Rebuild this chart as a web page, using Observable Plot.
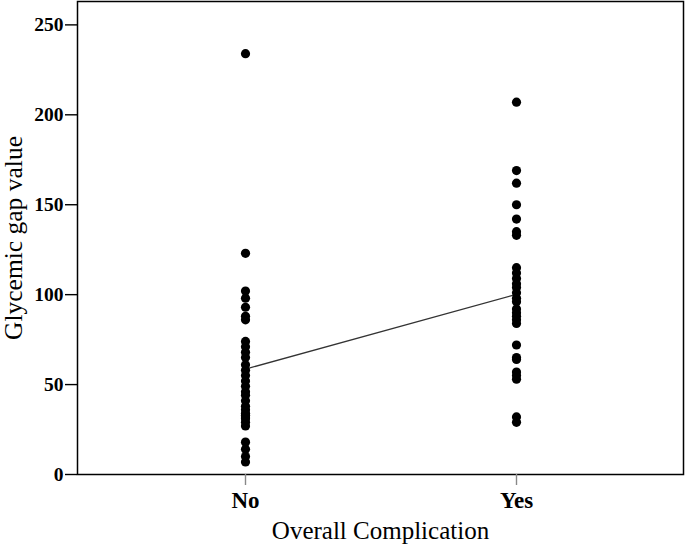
<!DOCTYPE html>
<html>
<head>
<meta charset="utf-8">
<script src="https://cdn.jsdelivr.net/npm/d3@7"></script>
<script src="https://cdn.jsdelivr.net/npm/@observablehq/plot@0.6"></script>
<style>
  html, body { margin: 0; padding: 0; background: white; }
</style>
</head>
<body>
<div id="chart"></div>
<script>
const groups = ["No", "Yes"];
const noValues = [234, 123, 102, 98, 93, 88, 86, 74, 71, 68, 65, 61, 58, 55, 52, 49, 46, 44, 41, 38, 36, 34, 33, 32, 31, 29, 27, 18, 14, 10, 7];
const yesValues = [207, 169, 162, 150, 142, 135, 133, 115, 112, 109, 106, 104, 101, 98, 96, 92, 90, 88, 86, 84, 72, 65, 64, 57, 55, 53, 32, 29];
const yTicks = [0, 50, 100, 150, 200, 250];

const data = [
  ...noValues.map(v => ({group: "No", value: v})),
  ...yesValues.map(v => ({group: "Yes", value: v}))
];

const chart = Plot.plot({
  width: 685,
  height: 546,
  marginLeft: 77,
  marginRight: 2,
  marginTop: 1,
  marginBottom: 72,
  x: {type: "point", domain: groups, padding: 0.614},
  y: {domain: [0, 263]},
  style: {fontFamily: "'Liberation Serif', 'Times New Roman', serif", background: "white", color: "black"},
  marks: [
    Plot.frame({stroke: "black", strokeWidth: 1.5}),
    Plot.axisY({ticks: yTicks, tickSize: 12, tickPadding: 2, fontSize: 19.5, fontWeight: "bold", label: null, stroke: "black", strokeWidth: 1.4}),
    Plot.axisX({tickSize: 11, tickPadding: 6, fontSize: 23, fontWeight: "bold", label: null, stroke: "#888", strokeWidth: 1.4}),
    Plot.lineY(data, Plot.groupX({y: "mean"}, {x: "group", y: "value", stroke: "#333", strokeWidth: 1.3})),
    Plot.dot(data, {x: "group", y: "value", r: 4.6, fill: "black", stroke: null}),
    Plot.text(["Glycemic gap value"], {frameAnchor: "left", textAnchor: "middle", lineAnchor: "middle", rotate: -90, dx: -64, fontSize: 25.5}),
    Plot.text(["Overall Complication"], {frameAnchor: "bottom", textAnchor: "middle", lineAnchor: "middle", dy: 56, fontSize: 25})
  ]
});
document.getElementById("chart").appendChild(chart);
</script>
</body>
</html>
